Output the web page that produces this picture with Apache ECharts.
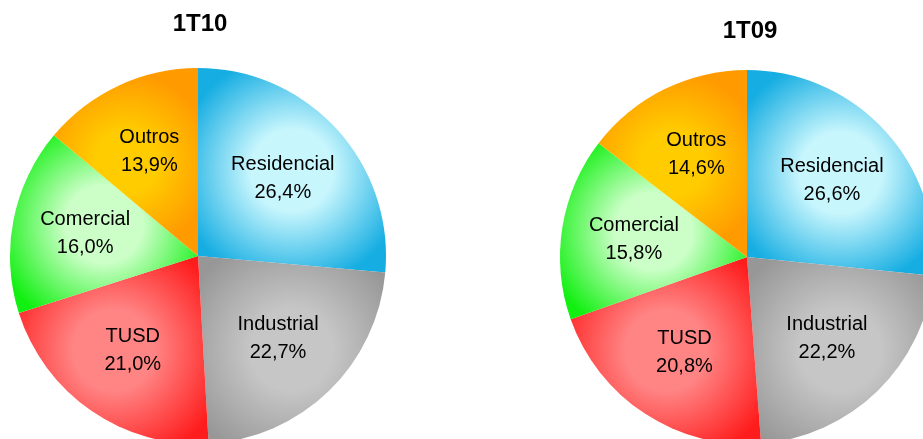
<!DOCTYPE html>
<html>
<head>
<meta charset="utf-8">
<script src="https://cdn.jsdelivr.net/npm/echarts@6/dist/echarts.min.js"></script>
<style>
html,body{margin:0;padding:0;background:#fff;}
#c{width:923px;height:439px;}
</style>
</head>
<body>
<div id="c"></div>
<script>
const categories = ['Residencial', 'Industrial', 'TUSD', 'Comercial', 'Outros'];
const values1T10 = [26.4, 22.7, 21.0, 16.0, 13.9];
const values1T09 = [26.6, 22.2, 20.8, 15.8, 14.6];
const titles = ['1T10', '1T09'];

const palette = [
  ['#c8f6fd', '#15ade2'],
  ['#c6c6c6', '#979797'],
  ['#ff8484', '#ff1c1c'],
  ['#ccffc8', '#12f012'],
  ['#ffcc00', '#ff9a00']
];

function grad(i) {
  return {
    type: 'radial', x: 0.5, y: 0.5, r: 0.62,
    colorStops: [
      {offset: 0, color: palette[i][0]},
      {offset: 0.35, color: palette[i][0]},
      {offset: 1, color: palette[i][1]}
    ]
  };
}

function fmt(p) {
  return p.name + '\n' + p.value.toFixed(1).replace('.', ',') + '%';
}

function pieSeries(vals, center, radius) {
  const data = categories.map((c, i) => ({name: c, value: vals[i], itemStyle: {color: grad(i)}}));
  const labelData = categories.map((c, i) => ({name: c, value: vals[i]}));
  return [
    {
      type: 'pie', center: center, radius: radius, startAngle: 90, clockwise: true,
      data: data, label: {show: false}, labelLine: {show: false},
      itemStyle: {borderWidth: 0}, silent: true, animation: false,
      emphasis: {disabled: true}
    },
    {
      type: 'pie', center: center, radius: [36, radius], startAngle: 90, clockwise: true,
      data: labelData, silent: true, animation: false,
      itemStyle: {color: 'rgba(0,0,0,0)', borderWidth: 0},
      emphasis: {disabled: true},
      labelLine: {show: false},
      label: {
        show: true, position: 'inside', formatter: fmt,
        color: '#000', fontFamily: 'Liberation Sans, Arial, sans-serif',
        fontSize: 20, lineHeight: 28
      }
    }
  ];
}

const chart = echarts.init(document.getElementById('c'), null, {renderer: 'canvas'});
chart.setOption({
  backgroundColor: '#fff',
  animation: false,
  title: [
    {text: titles[0], left: 200, top: 12, textAlign: 'center', padding: 0,
     textStyle: {fontFamily: 'Liberation Sans, Arial, sans-serif', fontSize: 24, fontWeight: 'bold', color: '#000'}},
    {text: titles[1], left: 750, top: 19, textAlign: 'center', padding: 0,
     textStyle: {fontFamily: 'Liberation Sans, Arial, sans-serif', fontSize: 24, fontWeight: 'bold', color: '#000'}}
  ],
  series: [].concat(
    pieSeries(values1T10, [198, 256], 188),
    pieSeries(values1T09, [747, 257], 187)
  )
});
</script>
</body>
</html>
